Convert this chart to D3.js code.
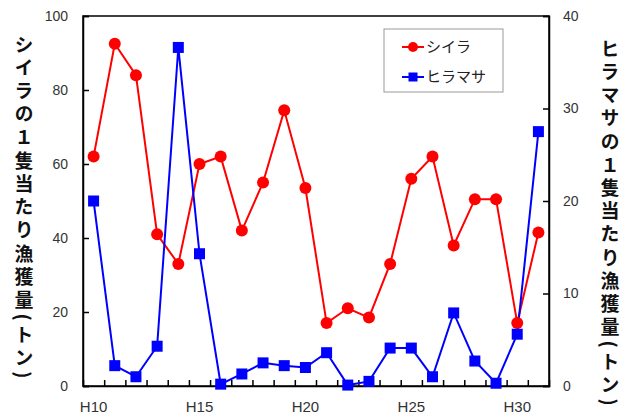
<!DOCTYPE html>
<html><head><meta charset="utf-8">
<script src="https://cdn.jsdelivr.net/npm/d3@7"></script>
<style>
body{margin:0;background:#fff;}
svg{display:block;}
</style></head>
<body>
<script>
const categories = ["H10","H11","H12","H13","H14","H15","H16","H17","H18","H19","H20","H21","H22","H23","H24","H25","H26","H27","H28","H29","H30","H31"];
const shiira = [62,92.5,84,41,33,60,62,42,55,74.5,53.5,17,21,18.5,33,56,62,38,50.5,50.5,17,41.5];
const hiramasa = [20,2.2,1.0,4.3,36.6,14.3,0.2,1.3,2.5,2.2,2.0,3.6,0.1,0.5,4.1,4.1,1.0,7.9,2.7,0.3,5.6,27.5];
const xLabels = ["H10","H15","H20","H25","H30"];
const leftTicks = [0,20,40,60,80,100];
const rightTicks = [0,10,20,30,40];
const leftTitle = "シイラの１隻当たり漁獲量(トン)";
const rightTitle = "ヒラマサの１隻当たり漁獲量(トン)";
const seriesNames = ["シイラ","ヒラマサ"];

const W=627,H=414;
const L=83,R=549,T=16,B=386;
const svg=d3.select("body").append("svg").attr("width",W).attr("height",H);

const x=d3.scaleBand().domain(categories).range([L,R]).padding(0);
const xi=d3.scaleLinear().domain([0,categories.length]).range([L,R]);
const yL=d3.scaleLinear().domain([0,100]).range([B,T]);
const yR=d3.scaleLinear().domain([0,40]).range([B,T]);
const cx=d=>x(d)+x.bandwidth()/2;

// frame
svg.append("rect").attr("x",L).attr("y",T).attr("width",R-L).attr("height",B-T)
  .attr("fill","none").attr("stroke","#000").attr("stroke-width",1.5);

const tickFont="'Liberation Sans', Arial, sans-serif";
function styleAxis(g){
  g.select(".domain").attr("stroke","#000").attr("stroke-width",1.5);
  g.selectAll(".tick line").attr("stroke","#000").attr("stroke-width",1.5);
  g.selectAll("text").attr("font-family",tickFont).attr("font-size",14).attr("fill","#333");
}

const gl=svg.append("g").attr("transform",`translate(${L},0)`)
  .call(d3.axisLeft(yL).tickValues(leftTicks).tickSize(-6).tickPadding(15));
styleAxis(gl);
const gr=svg.append("g").attr("transform",`translate(${R},0)`)
  .call(d3.axisRight(yR).tickValues(rightTicks).tickSize(-6).tickPadding(14));
styleAxis(gr);
const gb=svg.append("g").attr("transform",`translate(0,${B})`)
  .call(d3.axisBottom(xi).tickValues(d3.range(1,categories.length)).tickSize(-6).tickFormat(""));
styleAxis(gb);
const gbl=svg.append("g").attr("transform",`translate(0,${B})`)
  .call(d3.axisBottom(x).tickValues(xLabels).tickSize(0).tickPadding(15));
gbl.select(".domain").remove();
styleAxis(gbl);
gbl.selectAll("text").attr("font-size",15);

// titles (vertical)
function vTitle(txt,xp,yp){
  svg.append("text").attr("x",xp).attr("y",yp)
    .attr("font-family","'Noto Sans CJK JP', sans-serif").attr("font-weight","bold")
    .attr("font-size",19).attr("fill","#111")
    .style("writing-mode","vertical-rl").style("text-orientation","mixed")
    .attr("letter-spacing",4.2)
    .text(txt);
}
vTitle(leftTitle,24,35);
vTitle(rightTitle,610,39);

// lines
const red="#ff0000", blue="#0000ff";
const lineL=d3.line().x((d,i)=>cx(categories[i])).y(d=>yL(d));
const lineR=d3.line().x((d,i)=>cx(categories[i])).y(d=>yR(d));
svg.append("path").attr("d",lineL(shiira)).attr("fill","none").attr("stroke",red).attr("stroke-width",2);
svg.append("path").attr("d",lineR(hiramasa)).attr("fill","none").attr("stroke",blue).attr("stroke-width",2);
svg.append("g").selectAll("circle").data(shiira).join("circle")
  .attr("cx",(d,i)=>cx(categories[i])).attr("cy",d=>yL(d)).attr("r",6).attr("fill",red);
svg.append("g").selectAll("rect").data(hiramasa).join("rect")
  .attr("x",(d,i)=>cx(categories[i])-5.5).attr("y",d=>yR(d)-5.5).attr("width",11).attr("height",11).attr("fill",blue);

// legend
const lg=svg.append("g");
lg.append("rect").attr("x",384).attr("y",29).attr("width",119).attr("height",63)
  .attr("fill","#fff").attr("stroke","#999").attr("stroke-width",1);
const items=[{n:seriesNames[0],c:red,s:"circle",y:47},{n:seriesNames[1],c:blue,s:"rect",y:77}];
items.forEach(it=>{
  lg.append("line").attr("x1",402).attr("x2",424).attr("y1",it.y).attr("y2",it.y).attr("stroke",it.c).attr("stroke-width",2);
  if(it.s==="circle") lg.append("circle").attr("cx",413).attr("cy",it.y).attr("r",5).attr("fill",it.c);
  else lg.append("rect").attr("x",408.5).attr("y",it.y-4.5).attr("width",9).attr("height",9).attr("fill",it.c);
  lg.append("text").attr("x",426).attr("y",it.y).attr("dy","0.35em")
    .attr("font-family","'Noto Sans CJK JP', sans-serif").attr("font-size",15).attr("fill","#222").text(it.n);
});
</script>
</body></html>
